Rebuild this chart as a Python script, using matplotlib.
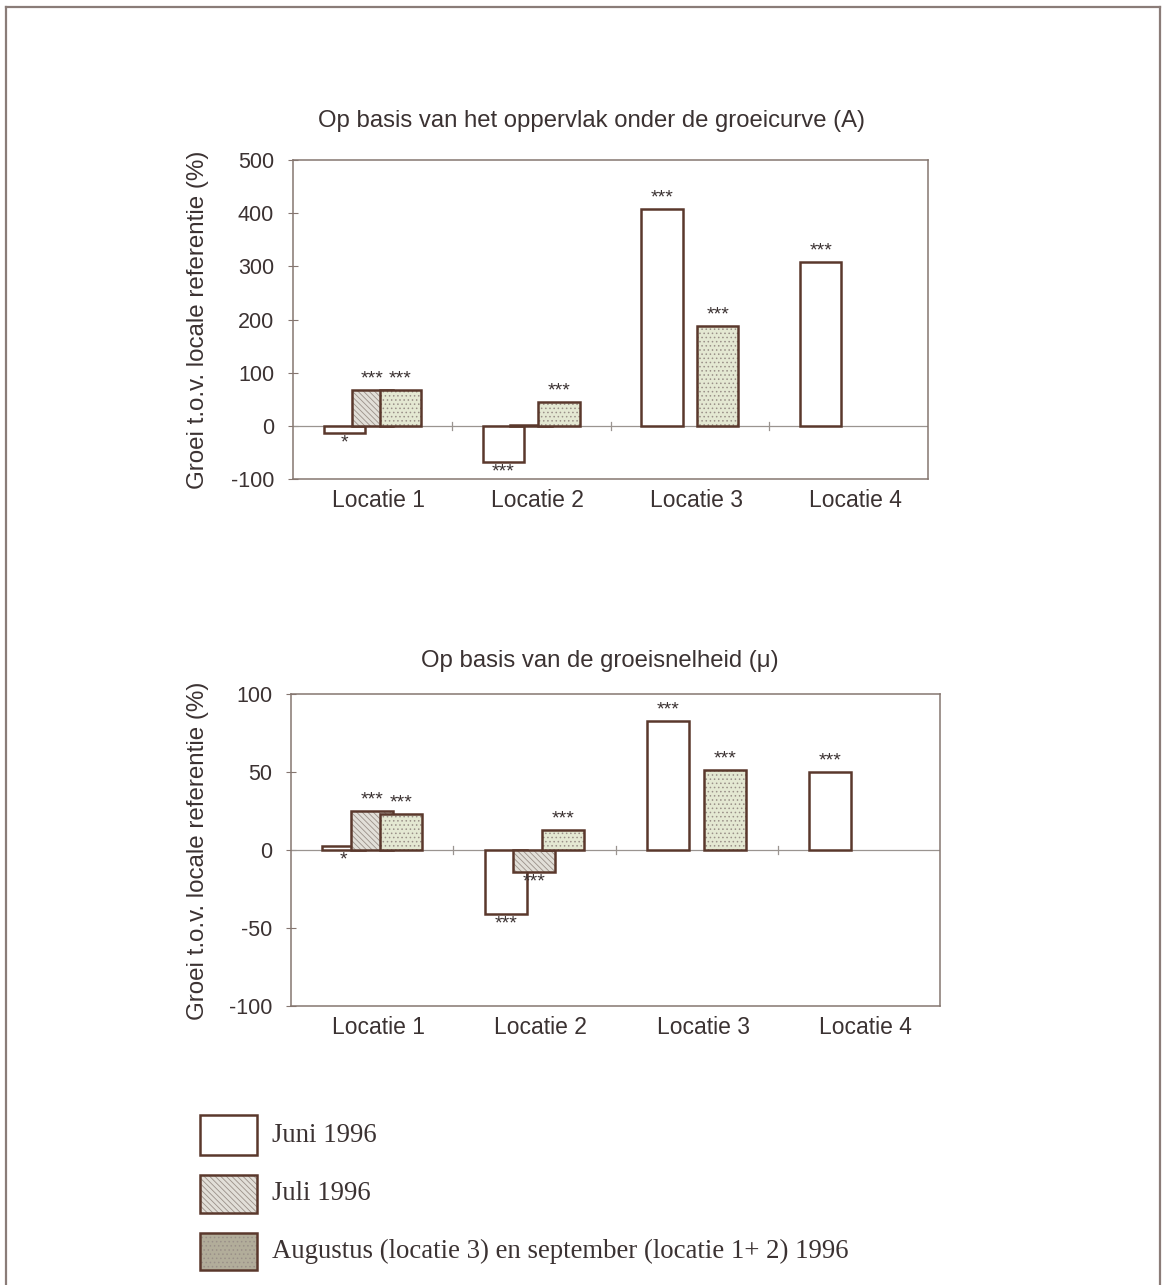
import numpy as np
import matplotlib.pyplot as plt
from matplotlib.patches import Rectangle
from matplotlib.lines import Line2D

locaties = ['Locatie 1', 'Locatie 2', 'Locatie 3', 'Locatie 4']
reeksen = ['Juni 1996', 'Juli 1996',
           'Augustus (locatie 3) en september (locatie 1+ 2) 1996']

# bovenste grafiek: oppervlak onder de groeicurve (A)
opp_juni = [-13, -68, 408, 308]
opp_juli = [68, 1, np.nan, np.nan]
opp_aug = [68, 45, 188, np.nan]
opp_sig = [['*', '***', '***'], ['***', '', '***'],
           ['***', '', '***'], ['***', '', '']]

# onderste grafiek: groeisnelheid (mu)
mu_juni = [2.5, -41, 83, 50]
mu_juli = [25, -14, np.nan, np.nan]
mu_aug = [23, 13, 51, np.nan]
mu_sig = [['*', '***', '***'], ['***', '***', '***'],
          ['***', '', '***'], ['***', '', '']]

W, H = 1164, 1285
EDGE = '#5a382c'
TXT = '#3b3232'
FRAME = '#857670'
JULI_FC = '#e2dfd8'
AUG_FC = '#e4e8d2'
AUG_LEG = '#b2ad9a'

plt.rcParams['font.family'] = ['Liberation Sans', 'DejaVu Sans']
plt.rcParams['axes.unicode_minus'] = False
plt.rcParams['hatch.linewidth'] = 0.6

fig = plt.figure(figsize=(W / 100, H / 100), dpi=100)


def px(x0, y0, x1, y1):
    return [x0 / W, 1 - y1 / H, (x1 - x0) / W, (y1 - y0) / H]


def teken(ax, juni, juli, aug, sig, ylim, yticks):
    x = np.arange(len(locaties))
    bw, off = 0.26, 0.176
    series = [(juni, -off, 'white', None), (juli, 0, JULI_FC, '\\\\\\\\\\\\'),
              (aug, off, AUG_FC, '....')]
    span = ylim[1] - ylim[0]
    for k, (vals, dx, fc, hatch) in enumerate(series):
        vals = np.array(vals, dtype=float)
        ok = ~np.isnan(vals)
        xs = x[ok] + dx
        ax.bar(xs, vals[ok], bw, color=fc, hatch=hatch, edgecolor='#9a9088',
               linewidth=0, zorder=3 + k)
        ax.bar(xs, vals[ok], bw, fill=False, edgecolor=EDGE,
               linewidth=1.8, zorder=3 + k)
        for i in np.where(ok)[0]:
            s = sig[i][k]
            if not s:
                continue
            v = vals[i]
            if v >= 5:
                ax.text(x[i] + dx, v + span * 0.008, s, ha='center',
                        va='bottom', fontsize=14, color=TXT, zorder=10)
            else:
                ax.text(x[i] + dx, min(v, 0) - span * 0.006, s, ha='center',
                        va='top', fontsize=14, color=TXT, zorder=10)
    ax.set_xlim(-0.5, 3.5)
    ax.set_ylim(*ylim)
    ax.set_yticks(yticks)
    # labels staan iets rechts van het midden van de groep
    ax.set_xticks(x + 0.04)
    ax.set_xticklabels(locaties, fontsize=16.5, color=TXT)
    ax.tick_params(axis='x', length=0, pad=7)
    ax.tick_params(axis='y', direction='inout', length=7, width=0.8,
                   colors=FRAME, labelcolor=TXT, labelsize=15.5, pad=10)
    ax.axhline(0, color='#9a9490', linewidth=0.9, zorder=2)
    y0 = (0 - ylim[0]) / span
    for b in [0.5, 1.5, 2.5]:
        ax.plot([b, b], [y0 - 0.012, y0 + 0.012], color='#9a9490',
                linewidth=0.9, transform=ax.get_xaxis_transform(), zorder=2)
    for sp in ax.spines.values():
        sp.set_color(FRAME)
        sp.set_linewidth(1.1)


ax1 = fig.add_axes(px(293, 160, 928, 479))
teken(ax1, opp_juni, opp_juli, opp_aug, opp_sig, (-100, 500),
      [-100, 0, 100, 200, 300, 400, 500])
fig.text(592 / W, 1 - 121 / H, 'Op basis van het oppervlak onder de groeicurve (A)',
         ha='center', va='center', fontsize=17.2, color=TXT)
fig.text(198 / W, 1 - 320 / H, 'Groei t.o.v. locale referentie (%)',
         rotation=90, ha='center', va='center', fontsize=17.4, color=TXT)

ax2 = fig.add_axes(px(291, 694, 940, 1006))
teken(ax2, mu_juni, mu_juli, mu_aug, mu_sig, (-100, 100),
      [-100, -50, 0, 50, 100])
fig.text(600 / W, 1 - 661 / H, 'Op basis van de groeisnelheid (\u03bc)',
         ha='center', va='center', fontsize=17.2, color=TXT)
fig.text(198 / W, 1 - 851 / H, 'Groei t.o.v. locale referentie (%)',
         rotation=90, ha='center', va='center', fontsize=17.4, color=TXT)

# legenda
leg = [(1115, 1155, 'white', None), (1175, 1213, JULI_FC, '\\\\\\\\\\\\'),
       (1233, 1270, AUG_LEG, '....')]
for (t, b, fc, hatch), naam in zip(leg, reeksen):
    r = px(200, t, 257, b)
    fig.patches.append(Rectangle((r[0], r[1]), r[2], r[3], facecolor=fc,
                                 hatch=hatch, edgecolor='#9a9088', linewidth=0,
                                 transform=fig.transFigure, figure=fig))
    fig.patches.append(Rectangle((r[0], r[1]), r[2], r[3], fill=False,
                                 edgecolor=EDGE, linewidth=1.8,
                                 transform=fig.transFigure, figure=fig))
    fig.text(272 / W, 1 - (t + b) / 2 / H, naam, ha='left', va='center',
             fontsize=19.3, color=TXT, family=['Liberation Serif', 'DejaVu Serif'])

# kader rond de figuur
for xs, ys in [([6, 6], [7, H]), ([6, 1160], [7, 7]), ([1160, 1160], [7, H])]:
    fig.add_artist(Line2D([v / W for v in xs], [1 - v / H for v in ys],
                          color='#8a7c78', linewidth=1.6))

fig.savefig('out.png', dpi=100)
